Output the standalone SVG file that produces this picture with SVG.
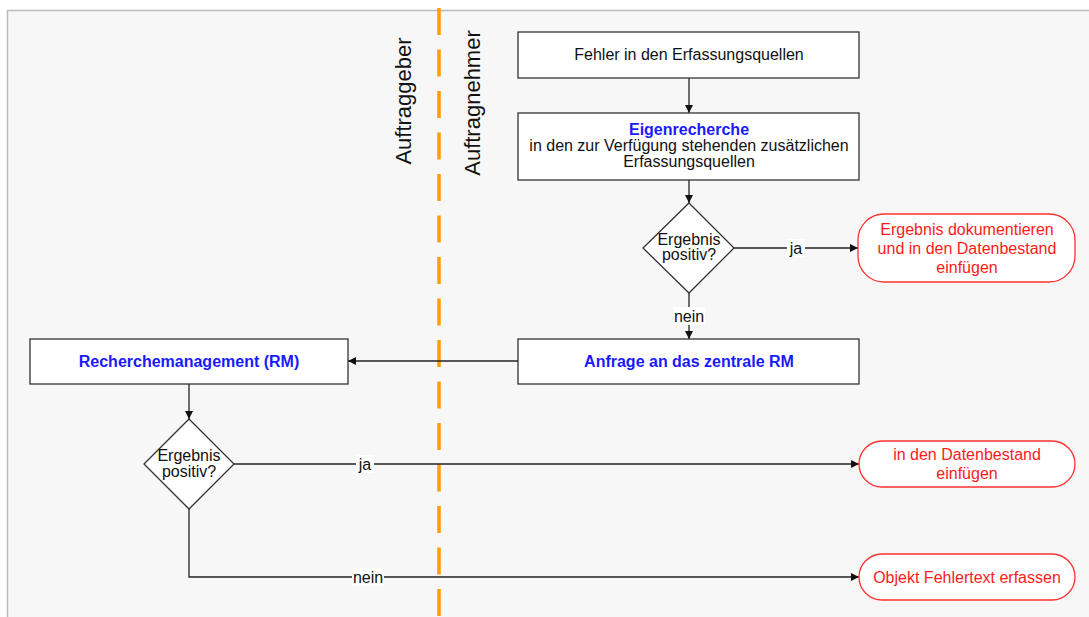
<svg xmlns="http://www.w3.org/2000/svg" width="1089" height="617" viewBox="0 0 1089 617">
<style>
text{font-family:"Liberation Sans",Arial,sans-serif;font-size:16px;text-anchor:middle;fill:#111}
.box{fill:#fff;stroke:#333;stroke-width:1.3}
.term{fill:#fff;stroke:#ff3030;stroke-width:1.3}
.red{fill:#ff1a1a}
.blue{fill:#1a1aff;font-weight:bold}
.lane{font-size:22px;fill:#111}
.edge{fill:none;stroke:#222;stroke-width:1.3}
.lbl{fill:#fff}
</style>
<defs>
<marker id="arr" viewBox="0 0 10 10" refX="10" refY="5" markerWidth="8" markerHeight="8" markerUnits="userSpaceOnUse" orient="auto">
<path d="M0,0 L10,5 L0,10 Z" fill="#111"/>
</marker>
</defs>
<rect x="0" y="0" width="1089" height="617" fill="#fff"/>
<rect x="7" y="10" width="1082" height="607" fill="#f7f7f7"/>
<line x1="7" y1="10.5" x2="1089" y2="10.5" stroke="#bbb" stroke-width="1.5"/>
<line x1="7.5" y1="10" x2="7.5" y2="617" stroke="#bbb" stroke-width="1.5"/>
<g id="lane-divider">
<line x1="439" y1="8" x2="439" y2="617" stroke="#ff9d0a" stroke-width="3.5" stroke-dasharray="27 14.5" stroke-linecap="butt"/>
<text class="lane" transform="translate(411,101) rotate(-90)">Auftraggeber</text>
<text class="lane" transform="translate(480,103) rotate(-90)">Auftragnehmer</text>
</g>
<g id="connectors">
<line class="edge" x1="689" y1="78" x2="689" y2="113" marker-end="url(#arr)"/>
<line class="edge" x1="689" y1="180" x2="689" y2="203" marker-end="url(#arr)"/>
<line class="edge" x1="734" y1="248" x2="858" y2="248" marker-end="url(#arr)"/>
<line class="edge" x1="689" y1="293" x2="689" y2="339" marker-end="url(#arr)"/>
<line class="edge" x1="518" y1="361" x2="348" y2="361" marker-end="url(#arr)"/>
<line class="edge" x1="189" y1="384" x2="189" y2="419" marker-end="url(#arr)"/>
<line class="edge" x1="234" y1="464" x2="859" y2="464" marker-end="url(#arr)"/>
<polyline class="edge" points="189,509 189,577 859,577" marker-end="url(#arr)"/>
<rect class="lbl" x="787" y="239" width="18" height="18"/>
<text x="796" y="254">ja</text>
<rect class="lbl" x="673" y="307" width="32" height="18"/>
<text x="689" y="322">nein</text>
<rect class="lbl" x="356" y="455" width="18" height="18"/>
<text x="365" y="470">ja</text>
<rect class="lbl" x="352" y="568" width="32" height="18"/>
<text x="368" y="583">nein</text>
</g>
<g id="n-fehler">
<rect class="box" x="518" y="32" width="341" height="46"/>
<text x="689" y="60">Fehler in den Erfassungsquellen</text>
</g>
<g id="n-eigen">
<rect class="box" x="518" y="113" width="341" height="67"/>
<text class="blue" x="689" y="135">Eigenrecherche</text>
<text x="689" y="151">in den zur Verfügung stehenden zusätzlichen</text>
<text x="689" y="167">Erfassungsquellen</text>
</g>
<g id="n-dec1">
<polygon class="box" points="689,203 734,248 689,293 643,248"/>
<text x="689" y="245">Ergebnis</text>
<text x="689" y="260">positiv?</text>
</g>
<g id="n-doc">
<rect class="term" x="858" y="214" width="217" height="68" rx="26" ry="26"/>
<text class="red" x="967" y="235">Ergebnis dokumentieren</text>
<text class="red" x="967" y="254">und in den Datenbestand</text>
<text class="red" x="967" y="273">einfügen</text>
</g>
<g id="n-anfrage">
<rect class="box" x="518" y="339" width="341" height="45"/>
<text class="blue" x="689" y="367">Anfrage an das zentrale RM</text>
</g>
<g id="n-rm">
<rect class="box" x="30" y="339" width="318" height="45"/>
<text class="blue" x="189" y="367">Recherchemanagement (RM)</text>
</g>
<g id="n-dec2">
<polygon class="box" points="189,419 234,464 189,509 144,464"/>
<text x="189" y="461">Ergebnis</text>
<text x="189" y="477">positiv?</text>
</g>
<g id="n-insert">
<rect class="term" x="859" y="441" width="216" height="46" rx="23" ry="23"/>
<text class="red" x="967" y="460">in den Datenbestand</text>
<text class="red" x="967" y="479">einfügen</text>
</g>
<g id="n-objekt">
<rect class="term" x="859" y="554" width="216" height="46" rx="23" ry="23"/>
<text class="red" x="967" y="583">Objekt Fehlertext erfassen</text>
</g>
</svg>
